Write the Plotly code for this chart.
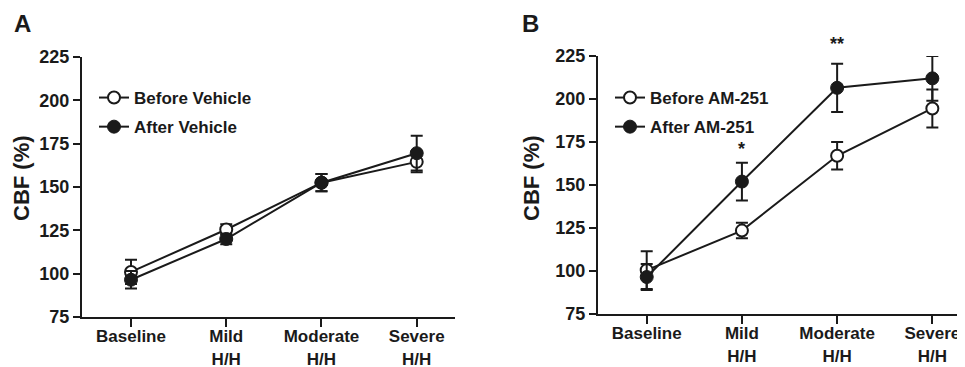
import plotly.graph_objects as go

categories = ["Baseline", "Mild<br>H/H", "Moderate<br>H/H", "Severe<br>H/H"]
x_pos = [0, 1, 2, 3]

# Panel A
before_vehicle = [101, 125.5, 152.5, 164.5]
before_vehicle_err = [7, 3, 5, 6]
after_vehicle = [96.5, 120, 152.5, 169.5]
after_vehicle_err = [5, 3, 5, 10]

# Panel B
before_am = [100.5, 123.5, 167, 194.5]
before_am_err = [11, 4.5, 8, 11]
after_am = [96.5, 152, 206.5, 212]
after_am_err = [7.5, 11, 14, 13]

y_ticks = [75, 100, 125, 150, 175, 200, 225]
sig_labels = ["*", "**"]
sig_x = [1, 2]
sig_y = [171, 232]

FONT = "Liberation Sans, Arial, sans-serif"
INK = "#1a1a1a"
OFF = 8  # page body margin offset
W, H = 965 - OFF, 367 - OFF


def px(x):
    return (x - OFF) / W


def py(y):
    return 1 - (y - OFF) / H


fig = go.Figure()


def add_pair(before, berr, after, aerr, xa, ya, leg, names):
    fig.add_trace(go.Scatter(
        x=x_pos, y=before, mode="lines+markers", name=names[0],
        xaxis=xa, yaxis=ya, legend=leg, legendgroup=leg + "a",
        line=dict(color=INK, width=2),
        marker=dict(symbol="circle", size=12, color="white", line=dict(color=INK, width=2)),
        error_y=dict(type="data", array=berr, color=INK, thickness=2, width=6),
        cliponaxis=False,
    ))
    fig.add_trace(go.Scatter(
        x=x_pos, y=after, mode="lines+markers", name=names[1],
        xaxis=xa, yaxis=ya, legend=leg, legendgroup=leg + "b",
        line=dict(color=INK, width=2),
        marker=dict(symbol="circle", size=13, color=INK, line=dict(color=INK, width=1)),
        error_y=dict(type="data", array=aerr, color=INK, thickness=2, width=6),
        cliponaxis=False,
    ))


add_pair(before_vehicle, before_vehicle_err, after_vehicle, after_vehicle_err,
         "x", "y", "legend", ["Before Vehicle", "After Vehicle"])
add_pair(before_am, before_am_err, after_am, after_am_err,
         "x2", "y2", "legend2", ["Before AM-251", "After AM-251"])

xtickfont = dict(family=FONT, size=17, color=INK, weight="bold")
ytickfont = dict(family=FONT, size=18, color=INK, weight="bold")


def xaxis(domain, rng, anchor):
    return dict(domain=domain, range=rng, anchor=anchor, automargin=False,
                tickmode="array", tickvals=x_pos, ticktext=categories,
                showline=True, linecolor=INK, linewidth=2,
                ticks="outside", ticklen=8, tickwidth=2, tickcolor=INK,
                ticklabelstandoff=-5,
                showgrid=False, zeroline=False, tickfont=xtickfont, fixedrange=True)


def yaxis(domain, anchor):
    return dict(domain=domain, range=[75, 225], anchor=anchor, automargin=False,
                tickmode="array", tickvals=y_ticks,
                showline=True, linecolor=INK, linewidth=2,
                ticks="outside", ticklen=7, tickwidth=2, tickcolor=INK,
                showgrid=False, zeroline=False, tickfont=ytickfont,
                fixedrange=True)


legfont = dict(family=FONT, size=17, color=INK, weight="bold")

fig.update_layout(
    width=W, height=H,
    margin=dict(l=0, r=0, t=0, b=0, autoexpand=False),
    paper_bgcolor="white", plot_bgcolor="white",
    xaxis=xaxis([px(82), px(455)], [-0.5145, 3.402], "y"),
    yaxis=yaxis([py(317), py(57)], "x"),
    xaxis2=xaxis([px(598), 1.0], [-0.5116, 3.343], "y2"),
    yaxis2=yaxis([py(314), py(56)], "x2"),
    legend=dict(x=px(94), y=py(80), xanchor="left", yanchor="top",
                bgcolor="rgba(0,0,0,0)", font=legfont, tracegroupgap=4,
                traceorder="grouped"),
    legend2=dict(x=px(610), y=py(80), xanchor="left", yanchor="top",
                 bgcolor="rgba(0,0,0,0)", font=legfont, tracegroupgap=4,
                 traceorder="grouped"),
    showlegend=True,
)

title_font = dict(family=FONT, size=22, color=INK, weight="bold")
for tx in (22, 532):
    fig.add_annotation(text="CBF (%)", x=px(tx), y=py(178), xref="paper", yref="paper",
                       textangle=-90, showarrow=False, font=title_font,
                       xanchor="center", yanchor="middle")

panel_font = dict(family=FONT, size=24, color=INK, weight="bold")
fig.add_annotation(text="A", x=px(23), y=py(24), xref="paper", yref="paper",
                   xanchor="center", yanchor="middle", showarrow=False, font=panel_font)
fig.add_annotation(text="B", x=px(530), y=py(24), xref="paper", yref="paper",
                   xanchor="center", yanchor="middle", showarrow=False, font=panel_font)

# significance marks, placed on panel B's x axis and in its y-domain fraction
for lbl, sx, sy in zip(sig_labels, sig_x, sig_y):
    fig.add_annotation(text=lbl, x=sx, y=(sy - 75) / 150, xref="x2", yref="y2 domain",
                       showarrow=False, xanchor="center", yanchor="middle",
                       font=dict(family=FONT, size=18, color=INK, weight="bold"))

fig.write_html("out.html")
